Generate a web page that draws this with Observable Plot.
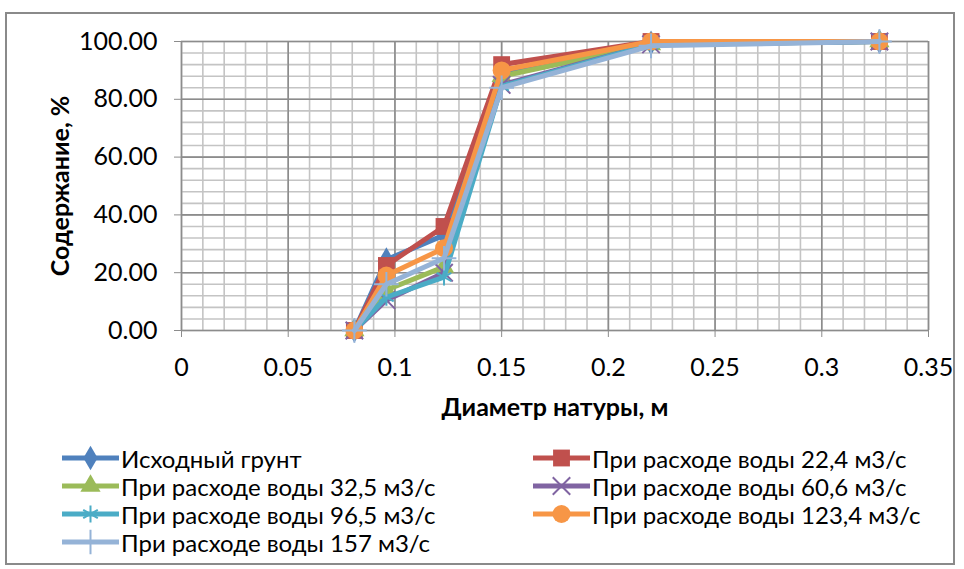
<!DOCTYPE html>
<html><head><meta charset="utf-8">
<script src="https://cdn.jsdelivr.net/npm/d3@7"></script>
<script src="https://cdn.jsdelivr.net/npm/@observablehq/plot@0.6"></script>
<style>
body{margin:0;background:#fff;width:964px;height:569px;overflow:hidden;position:relative;font-family:Lato,"Open Sans",sans-serif;}
#frame{position:absolute;left:5px;top:12px;width:950px;height:553px;border:2px solid #8a8a8a;box-sizing:border-box;}
#chart{position:absolute;left:0;top:0;}
.leg{position:absolute;display:flex;align-items:center;font-size:24px;color:#000;white-space:nowrap;}
.leg svg{margin-right:2px;}
</style></head>
<body>
<div id="frame"></div>
<div id="chart"></div>
<div id="legend"></div>
<script>
// ---- data ----
const diameters = [0.081, 0.096, 0.123, 0.15, 0.22, 0.327];
const seriesNames = [
  "Исходный грунт",
  "При расходе воды 22,4 м3/с",
  "При расходе воды 32,5 м3/с",
  "При расходе воды 60,6 м3/с",
  "При расходе воды 96,5 м3/с",
  "При расходе воды 123,4 м3/с",
  "При расходе воды 157 м3/с"
];
const sInitial = [0, 24.5, 33, 89, 99.5, 100];
const s224 = [0, 22.5, 36, 92, 100, 100];
const s325 = [0, 14, 22, 88, 99, 100];
const s606 = [0, 10.5, 20, 85, 99, 100];
const s965 = [0, 11.5, 18.5, 84.5, 99, 100];
const s1234 = [0, 19, 28.5, 90, 100, 100];
const s157 = [0, 16, 25, 84, 98.5, 100];
const seriesValues = [sInitial, s224, s325, s606, s965, s1234, s157];
const xTicks = [0, 0.05, 0.1, 0.15, 0.2, 0.25, 0.3, 0.35];
const yTicks = [0, 20, 40, 60, 80, 100];
const xLabel = "Диаметр натуры, м";
const yLabel = "Содержание, %";

const colors = ["#4F81BD", "#C0504D", "#9BBB59", "#8064A2", "#4BACC6", "#F79646", "#95B3D7"];
const symbols = ["diamond", "square", "triangle", "times", "asterisk", "circle", "plus"];
const strokeSym = new Set(["times", "asterisk", "plus"]);
const symR = {diamond: 7.5, square: 9.5, triangle: 7.5, times: 8, asterisk: 8, circle: 9, plus: 8};

const rows = [];
seriesValues.forEach((vals, i) => vals.forEach((v, j) => rows.push({s: i, x: diameters[j], y: v})));

const minorX = d3.range(0, 36).map(i => i / 100);
const minorY = d3.range(0, 26).map(i => i * 4);

const marks = [
  Plot.ruleX(minorX, {stroke: "#c4c4c4", strokeWidth: 1.6}),
  Plot.ruleY(minorY, {stroke: "#c4c4c4", strokeWidth: 1.6}),
  Plot.ruleX(xTicks, {stroke: "#8c8c8c", strokeWidth: 1.6}),
  Plot.ruleY(yTicks, {stroke: "#8c8c8c", strokeWidth: 1.6}),
  Plot.axisX({ticks: xTicks, tickFormat: d => String(+d.toFixed(2)), tickSize: 7, tickPadding: 21, stroke: "#8c8c8c", label: null, fontSize: 25}),
  Plot.axisY({ticks: yTicks, tickFormat: d => d.toFixed(2), tickSize: 7, tickPadding: 17, stroke: "#8c8c8c", label: null, fontSize: 25}),
  Plot.text([xLabel], {frameAnchor: "bottom", dy: 85, text: d => d, fontWeight: "bold", fontSize: 25}),
  Plot.text([yLabel], {frameAnchor: "left", dx: -121, text: d => d, rotate: -90, textAnchor: "middle", fontWeight: "bold", fontSize: 25})
];
seriesValues.forEach((vals, i) => {
  const data = rows.filter(r => r.s === i);
  marks.push(Plot.line(data, {x: "x", y: "y", stroke: colors[i], strokeWidth: 5}));
  const sym = symbols[i];
  if (strokeSym.has(sym)) {
    marks.push(Plot.dot(data, {x: "x", y: "y", symbol: sym, r: symR[sym], stroke: colors[i], strokeWidth: 2, fill: "none"}));
  } else {
    marks.push(Plot.dot(data, {x: "x", y: "y", symbol: sym, r: symR[sym], fill: colors[i], stroke: "none"}));
  }
});

const chart = Plot.plot({
  width: 964, height: 420,
  marginLeft: 181, marginRight: 36, marginTop: 41, marginBottom: 90,
  x: {domain: [0, 0.35]},
  y: {domain: [0, 100]},
  style: {fontFamily: "Lato, 'Open Sans', sans-serif", fontSize: "25px", color: "#000", background: "transparent", overflow: "visible"},
  marks
});
document.getElementById("chart").appendChild(chart);

// ---- legend ----
const legPos = [[62, 458], [533, 458], [62, 486], [533, 486], [62, 514], [533, 514], [62, 542]];
const legend = d3.select("#legend");
const symMap = {diamond: d3.symbolDiamond, square: d3.symbolSquare, triangle: d3.symbolTriangle, times: d3.symbolTimes, asterisk: d3.symbolAsterisk, circle: d3.symbolCircle, plus: d3.symbolPlus};
seriesNames.forEach((name, i) => {
  const [lx, ly] = legPos[i];
  const item = legend.append("div").attr("class", "leg").style("left", lx + "px").style("top", (ly - 14) + "px").style("height", "28px");
  const svg = item.append("svg").attr("width", 57).attr("height", 28);
  svg.append("line").attr("x1", 0).attr("x2", 57).attr("y1", 14).attr("y2", 14).attr("stroke", colors[i]).attr("stroke-width", 5);
  const sym = symbols[i];
  const r = symR[sym];
  const p = svg.append("path").attr("transform", "translate(28.5,14)").attr("d", d3.symbol(symMap[sym], Math.PI * r * r)());
  if (strokeSym.has(sym)) p.attr("fill", "none").attr("stroke", colors[i]).attr("stroke-width", 2);
  else p.attr("fill", colors[i]);
  item.append("span").text(name);
});
</script>
</body></html>
